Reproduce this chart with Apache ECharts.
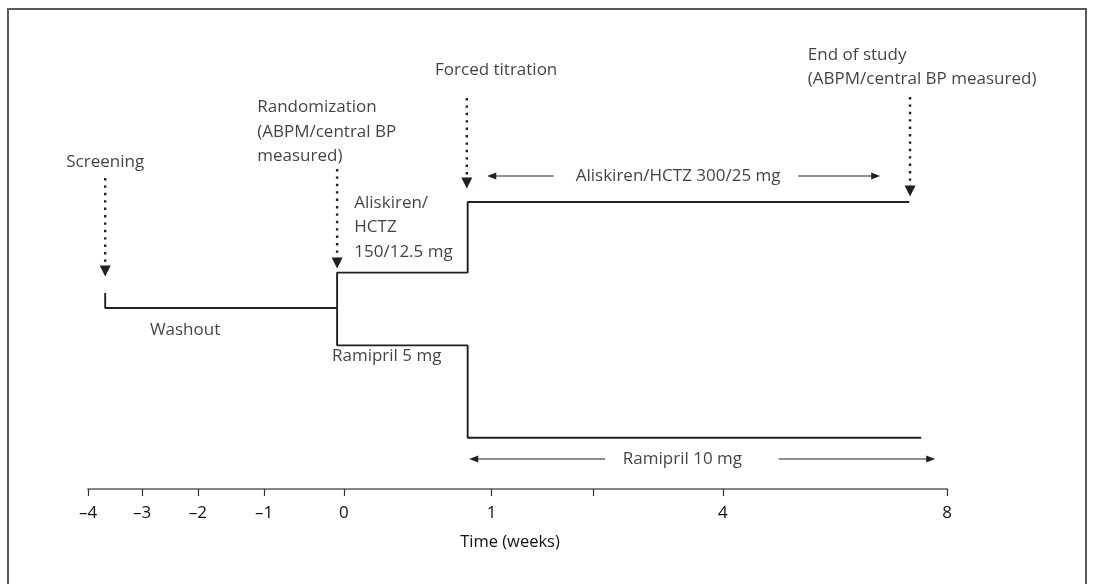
<!DOCTYPE html>
<html>
<head>
<meta charset="utf-8">
<script src="https://cdn.jsdelivr.net/npm/echarts@6/dist/echarts.min.js"></script>
<style>
  html, body { margin: 0; padding: 0; background: #fff; }
  #chart { width: 1094px; height: 584px; }
</style>
</head>
<body>
<div id="chart"></div>
<script>
// time axis: position of each tick along the drawn timeline (0-100), axis is not linear in weeks
const tickPos = [0, 6.3, 12.8, 20.5, 29.8, 47.0, 58.8, 73.9, 100]
const tickLabels = ['–4', '–3', '–2', '–1', '0', '1', '', '4', '8']

// treatment arms (schematic levels)
const washout = [[2.0, 49], [2.0, 45.25], [29.0, 45.25]]
const aliskirenArm = [[29.0, 45.25], [29.0, 54.1], [44.2, 54.1], [44.2, 71.75], [95.6, 71.75]]
const ramiprilArm = [[29.0, 45.25], [29.0, 35.9], [44.2, 35.9], [44.2, 12.8], [97.0, 12.8]]

// study events: dotted arrow from top down to tip
const eventX = [2.0, 29.0, 44.1, 95.7]
const eventTop = [77.75, 80, 97.75, 98]
const eventTip = [54.5, 56.5, 76.5, 74.5]

// dose spans (double arrows with text in the gap)
const spanY = [78.25, 7.5]
const spanLeft = [[47.0, 54.2], [44.9, 60.2]]
const spanRight = [[82.7, 91.7], [80.4, 98.1]]

// text annotations
const noteText = [
  'Screening',
  'Randomization\n(ABPM/central BP\nmeasured)',
  'Forced titration',
  'End of study\n(ABPM/central BP measured)',
  'Aliskiren/\nHCTZ\n150/12.5 mg',
  'Washout',
  'Ramipril 5 mg',
  'Aliskiren/HCTZ 300/25 mg',
  'Ramipril 10 mg'
]
const noteX = [2.0, 19.7, 40.4, 83.8, 31.0, 11.3, 28.4, 68.7, 69.2]
const noteY = [81.75, 89.25, 104.75, 105.4, 65.4, 39.75, 33.25, 78.25, 7.5]
const noteAlign = ['center', 'left', 'left', 'left', 'left', 'center', 'left', 'center', 'center']

const ink = '#231f20'
const textInk = '#111'
const font = 'Open Sans'
const fontSize = 17

const chart = echarts.init(document.getElementById('chart'))

const stepSeries = [washout, aliskirenArm, ramiprilArm].map(d => ({
  type: 'line',
  data: d,
  symbol: 'none',
  silent: true,
  lineStyle: { color: ink, width: 1.9 }
}))

const eventSeries = eventX.map((x, i) => ({
  type: 'line',
  symbol: 'none',
  silent: true,
  data: [
    [x, eventTop[i]],
    { value: [x, eventTip[i]], symbol: 'triangle', symbolSize: [11, 11], symbolRotate: 180 }
  ],
  itemStyle: { color: ink },
  lineStyle: { color: ink, width: 2.4, type: [2.4, 5] }
}))

const spanSeries = []
spanY.forEach((y, i) => {
  spanSeries.push({
    type: 'line',
    symbol: 'none',
    silent: true,
    data: [
      { value: [spanLeft[i][0], y], symbol: 'triangle', symbolSize: [7, 9], symbolRotate: 90 },
      [spanLeft[i][1], y]
    ],
    itemStyle: { color: ink },
    lineStyle: { color: ink, width: 1.2 }
  })
  spanSeries.push({
    type: 'line',
    symbol: 'none',
    silent: true,
    data: [
      [spanRight[i][0], y],
      { value: [spanRight[i][1], y], symbol: 'triangle', symbolSize: [7, 9], symbolRotate: -90 }
    ],
    itemStyle: { color: ink },
    lineStyle: { color: ink, width: 1.2 }
  })
})

const noteSeries = {
  type: 'scatter',
  symbolSize: 0,
  silent: true,
  clip: false,
  data: noteText.map((t, i) => ({
    value: [noteX[i], noteY[i]],
    name: t,
    label: { align: noteAlign[i] }
  })),
  label: {
    show: true,
    position: [0, 0],
    verticalAlign: 'middle',
    formatter: p => p.name,
    color: textInk,
    fontSize: fontSize,
    fontFamily: font,
    lineHeight: 24.5
  }
}

const option = {
  animation: false,
  backgroundColor: '#fff',
  grid: { left: 88, right: 147, top: 29, bottom: 95 },
  xAxis: {
    type: 'value',
    min: 0,
    max: 100,
    axisLine: { show: true, onZero: false, lineStyle: { color: '#858585', width: 2 } },
    axisTick: {
      show: true,
      customValues: tickPos,
      length: 7,
      lineStyle: { color: '#333', width: 1.2 }
    },
    axisLabel: {
      customValues: tickPos.filter((_, i) => tickLabels[i] !== ''),
      formatter: v => tickLabels[tickPos.indexOf(v)],
      margin: 16,
      color: textInk,
      fontSize: fontSize,
      fontFamily: font
    },
    splitLine: { show: false },
    name: 'Time (weeks)',
    nameLocation: 'middle',
    nameGap: 45,
    nameTextStyle: { color: textInk, fontSize: 16.5, fontFamily: font, padding: [0, 15, 0, 0] }
  },
  yAxis: { type: 'value', min: 0, max: 115, show: false },
  graphic: [{
    type: 'rect',
    shape: { x: 8, y: 9, width: 1078, height: 600 },
    style: { fill: null, stroke: '#5a5a5a', lineWidth: 2 },
    silent: true
  }],
  series: [...stepSeries, ...eventSeries, ...spanSeries, noteSeries]
}

chart.setOption(option)
</script>
</body>
</html>
